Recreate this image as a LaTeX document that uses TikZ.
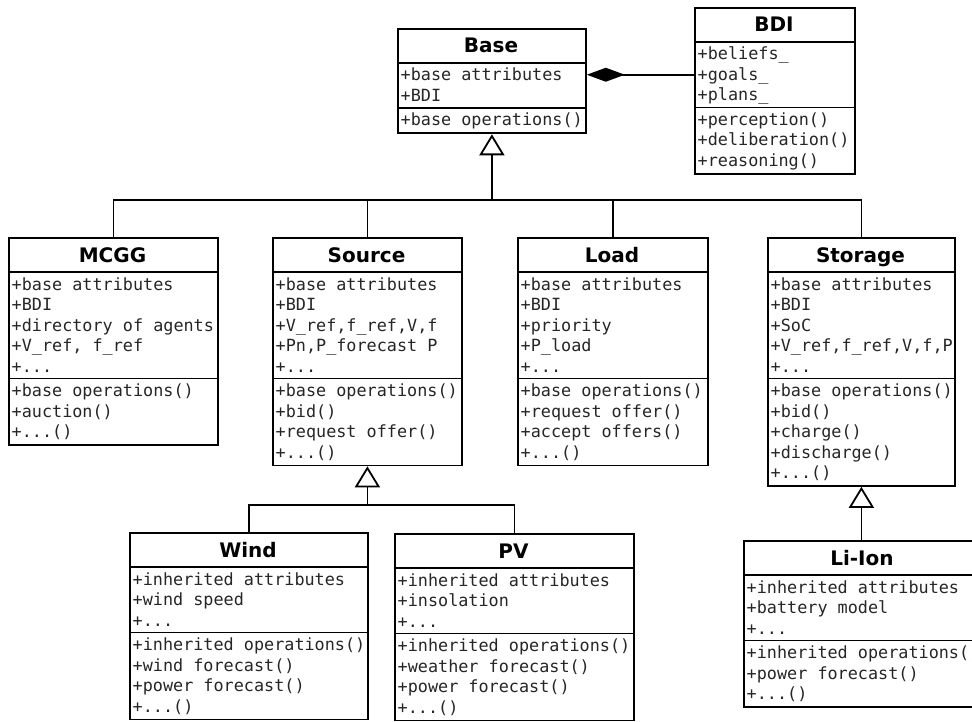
\documentclass[tikz,border=0pt]{standalone}
\usepackage{fontspec}
\setsansfont{DejaVu Sans}
\newfontfamily\umlmono{DejaVu Sans Mono}
\usetikzlibrary{arrows.meta}

\newcommand{\tdots}{...}

\tikzset{
  classbox/.style={draw=black, line width=1.8pt, fill=white, rectangle, inner sep=0pt, anchor=north west},
  classtitle/.style={font=\sffamily\bfseries\fontsize{20}{24}\selectfont, anchor=base, inner sep=0pt},
  member/.style={font=\umlmono\fontsize{16.8}{20.5}\selectfont, anchor=base west, inner sep=0pt, text=black!85},
  sepline/.style={line width=1.8pt},
  link/.style={line width=1.8pt},
  inherit/.style={link, -{Triangle[open, length=21pt, width=25pt]}},
  compose/.style={link, {Diamond[length=38pt, width=14pt]}-},
}

% #1 name, #2 x, #3 y top, #4 width, #5 title, #6 n attrs, #7 attrs, #8 n ops, #9 ops
\newcommand{\umlclass}[9]{%
  \pgfmathsetmacro\clsYa{#3+35}%
  \pgfmathsetmacro\clsYb{\clsYa+#6*20.5+4}%
  \pgfmathsetmacro\clsYc{\clsYb+#8*20.5+4}%
  \pgfmathsetmacro\clsH{\clsYc-#3}%
  \node[classbox, minimum width=#4pt, minimum height=\clsH pt] (#1) at (#2,#3) {};
  \node[classtitle] (#1-t) at ({#2+#4/2},{#3+25}) {#5};
  \draw[sepline] (#2,\clsYa) -- ({#2+#4},\clsYa);
  \draw[sepline] (#2,\clsYb) -- ({#2+#4},\clsYb);
  \foreach \t [count=\i] in {#7} {\node[member] (#1-a\i) at ({#2+3.5},{\clsYa+18}) [yshift={-(\i-1)*20.5pt}] {\t};}
  \foreach \t [count=\i] in {#9} {\node[member] (#1-o\i) at ({#2+3.5},{\clsYb+18}) [yshift={-(\i-1)*20.5pt}] {\t};}
}

\begin{document}
\begin{tikzpicture}[x=1pt, y=-1pt]
\useasboundingbox (0,0) rectangle (972,722);
\fill[white] (0,0) rectangle (972,722);
\clip (0,0) rectangle (972,722);

\umlclass{base}{397}{28}{188}{Base}{2}{+base attributes,+BDI}{1}{+base operations()}
\umlclass{bdi}{694}{7}{160}{BDI}{3}{+beliefs\_,+goals\_,+plans\_}{3}{+perception(),+deliberation(),+reasoning()}

\umlclass{mcgg}{8}{237}{209}{MCGG}{5}{+base attributes,+BDI,+directory of agents,{+V\_ref, f\_ref},+\tdots}{3}{+base operations(),+auction(),+\tdots()}
\umlclass{source}{272}{237}{189}{Source}{5}{+base attributes,+BDI,{+V\_ref,f\_ref,V,f},{+Pn,P\_forecast P},+\tdots}{4}{+base operations(),+bid(),+request offer(),+\tdots()}
\umlclass{load}{517}{237}{190}{Load}{5}{+base attributes,+BDI,+priority,+P\_load,+\tdots}{4}{+base operations(),+request offer(),+accept offers(),+\tdots()}
\umlclass{storage}{767}{237}{187}{Storage}{5}{+base attributes,+BDI,+SoC,{+V\_ref,f\_ref,V,f,P},+\tdots}{5}{+base operations(),+bid(),+charge(),+discharge(),+\tdots()}

\umlclass{wind}{129}{532}{238}{Wind}{3}{+inherited attributes,+wind speed,+\tdots}{4}{+inherited operations(),+wind forecast(),+power forecast(),+\tdots()}
\umlclass{pv}{394}{533}{239}{PV}{3}{+inherited attributes,+insolation,+\tdots}{4}{+inherited operations(),+weather forecast(),+power forecast(),+\tdots()}
\umlclass{lion}{743}{540}{238}{Li-Ion}{3}{+inherited attributes,+battery model,+\tdots}{3}{+inherited operations(),+power forecast(),+\tdots()}

% composition Base <>-- BDI
\draw[compose] (base.east |- base-a1) -- (bdi.west |- base-a1);

% inheritance from Base
\coordinate (bus) at (491,200);
\draw[inherit] (base.south |- bus) -- (base.south);
\draw[link] (mcgg.north) -- (mcgg.north |- bus) -- (storage.north |- bus) -- (storage.north);
\draw[link] (source.north) -- (source.north |- bus);
\draw[link] (load.north) -- (load.north |- bus);

% inheritance from Source
\coordinate (bus2) at (366,505);
\draw[inherit] (source.south |- bus2) -- (source.south);
\draw[link] (wind.north) -- (wind.north |- bus2) -- (pv.north |- bus2) -- (pv.north);

% inheritance from Storage
\draw[inherit] (storage.south |- lion.north) -- (storage.south);
\end{tikzpicture}
\end{document}
